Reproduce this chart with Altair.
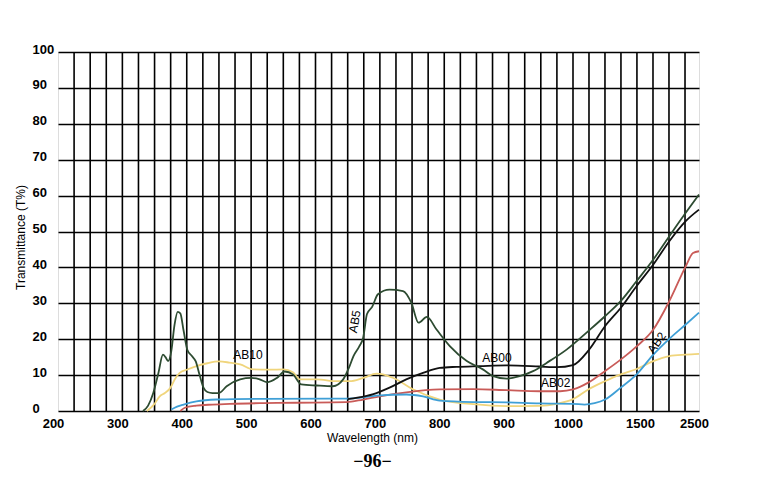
import altair as alt
import pandas as pd

# ---------------- data ----------------
series_names = ["AB10", "AB02", "AB2", "AB00", "AB5"]
series_colors = ["#f0d57c", "#c95b58", "#3f9fd6", "#111111", "#2d4b31"]

ab5_w = [332, 340, 348, 356, 363, 367, 371, 376, 381, 386, 390, 395, 401, 408, 414, 420, 426, 432, 440, 450,
         462, 483, 500, 512, 525, 540, 552, 565, 578, 602, 627, 643, 653, 659, 668, 674, 680, 688, 697, 715,
         736, 749, 760, 773, 788, 809, 835, 860, 876, 897, 917, 938, 959, 990, 1110, 1222, 1331, 1442, 1654,
         1950, 2254, 2500]
ab5_v = [0.0, 1.5, 5.0, 10.6, 15.7, 15.0, 13.9, 16.7, 24.0, 27.6, 27.2, 22.5, 17.0, 15.3, 13.8, 10.0, 6.5, 5.3, 5.0, 5.0,
         6.9, 8.8, 9.2, 8.9, 8.0, 9.2, 11.0, 10.2, 7.4, 7.1, 6.9, 8.8, 12.5, 15.3, 18.0, 20.4, 27.0, 29.0, 32.5, 33.8,
         33.4, 30.1, 24.6, 26.2, 22.7, 18.0, 13.9, 11.6, 9.7, 9.0, 9.7, 11.1, 13.4, 17.1, 22.4, 26.4, 30.6, 36.2, 42.2,
         48.7, 55.2, 60.3]

ab00_w = [650, 665, 690, 715, 741, 767, 793, 819, 855, 897, 948, 975, 1000, 1110, 1222, 1331, 1442, 1654, 1950, 2254, 2500]
ab00_v = [3.3, 3.7, 4.7, 6.5, 8.8, 10.6, 12.0, 12.3, 12.5, 12.7, 12.4, 12.2, 12.8, 17.0, 23.6, 28.7, 34.8, 40.8, 47.3, 52.9, 56.1]

ab02_w = [390, 397, 415, 440, 467, 520, 570, 648, 674, 700, 741, 793, 845, 897, 948, 980, 1000, 1106, 1222, 1331,
          1442, 1654, 1950, 2254, 2389, 2500]
ab02_v = [0.0, 0.9, 1.5, 1.8, 2.0, 2.2, 2.3, 2.45, 3.2, 4.1, 5.2, 6.0, 6.1, 5.8, 5.5, 5.5, 6.0, 7.9, 11.1, 14.3,
          18.0, 22.7, 30.6, 40.3, 44.0, 44.5]

ab2_w = [376, 385, 395, 415, 446, 519, 648, 670, 695, 741, 767, 793, 845, 897, 948, 1000, 1080, 1150, 1222, 1331,
         1442, 1654, 1950, 2254, 2500]
ab2_v = [0.4, 1.2, 1.8, 2.7, 3.2, 3.4, 3.45, 3.7, 4.3, 4.6, 4.1, 2.9, 2.5, 2.4, 2.1, 2.0, 1.8, 2.2, 3.2, 6.5,
         10.2, 15.7, 20.1, 24.1, 27.4]

ab10_w = [338, 350, 358, 366, 374, 382, 389, 400, 415, 432, 450, 466, 483, 503, 529, 550, 565, 576, 602, 633,
          653, 674, 695, 721, 752, 793, 845, 897, 948, 975, 1000, 1106, 1222, 1331, 1442, 1654, 1950, 2254, 2500]
ab10_v = [0.0, 2.0, 4.1, 5.0, 6.3, 9.0, 10.6, 11.5, 12.5, 13.3, 13.8, 13.5, 13.0, 11.6, 11.5, 11.6, 10.8, 8.8, 8.8, 8.3,
          8.3, 9.2, 10.4, 9.2, 6.0, 3.2, 1.9, 1.35, 1.4, 2.0, 3.3, 6.0, 8.3, 10.2, 11.7, 13.9, 15.3, 15.7, 15.9]

label_text = ["AB10", "AB5", "AB00", "AB02", "AB2"]
label_w = [495, 661, 882, 973, 1717]
label_v = [15.7, 24.9, 14.9, 7.7, 19.0]
label_angle = [0, 280, 0, 0, 305]

x_label_values = [200, 300, 400, 500, 600, 700, 800, 900, 1000, 1500, 2500]
x_grid_values = list(range(225, 1000, 25)) + [1000, 1111, 1222, 1333, 1444, 1648, 1944, 2241]
y_values = list(range(0, 101, 10))

# ---------------- tables ----------------
rows = []
for name, ws, vs in [("AB10", ab10_w, ab10_v), ("AB02", ab02_w, ab02_v), ("AB2", ab2_w, ab2_v),
                     ("AB00", ab00_w, ab00_v), ("AB5", ab5_w, ab5_v)]:
    for w, v in zip(ws, vs):
        rows.append({"series": name, "w": w, "v": v})
curves = pd.DataFrame(rows)
labels = pd.DataFrame({"label": label_text, "w": label_w, "v": label_v, "angle": label_angle})
grid = pd.DataFrame({"w": x_grid_values})

W, H = 641, 359
xscale = alt.Scale(domain=[200, 1000, 1500, 2500], range=[0, 515, 587, 641], nice=False, zero=False)
yscale = alt.Scale(domain=[0, 100], nice=False, zero=False)

xaxis = alt.Axis(values=x_label_values, format="d", grid=False, ticks=False, domain=False,
                 labelFont="Liberation Sans", labelFontWeight="bold", labelFontSize=13, labelColor="black",
                 labelPadding=6, labelOffset=-5, labelFlush=False, labelOverlap=False,
                 title="Wavelength (nm)", titleFont="Liberation Sans", titleFontWeight="normal",
                 titleFontSize=12, titleColor="black", titlePadding=2, titleX=314)
yaxis = alt.Axis(values=y_values, grid=True, gridColor="black", gridWidth=1.6, gridOpacity=1,
                 ticks=False, domain=False,
                 labelFont="Liberation Sans", labelFontWeight="bold", labelFontSize=13, labelColor="black",
                 labelAlign="left", labelPadding=26, labelOffset=-3, labelFlush=False,
                 title="Transmittance (T%)", titleFont="Liberation Sans", titleFontWeight="normal",
                 titleFontSize=12, titleColor="black", titleX=-38, titleY=185, titleAngle=270,
                 titleAlign="center", titleBaseline="middle")

rules = alt.Chart(grid).mark_rule(color="black", strokeWidth=1.6).encode(
    x=alt.X("w:Q", scale=xscale, axis=xaxis)
)

lines = alt.Chart(curves).mark_line(interpolate="monotone", strokeWidth=1.8).encode(
    x=alt.X("w:Q", scale=xscale, axis=xaxis),
    y=alt.Y("v:Q", scale=yscale, axis=yaxis),
    color=alt.Color("series:N", scale=alt.Scale(domain=series_names, range=series_colors), legend=None),
)

texts = alt.Chart(labels).mark_text(font="Liberation Sans", fontSize=12, color="black").encode(
    x=alt.X("w:Q", scale=xscale, axis=xaxis),
    y=alt.Y("v:Q", scale=yscale, axis=yaxis),
    text="label:N",
    angle=alt.Angle("angle:Q", scale=None),
)

chart = alt.layer(rules, lines, texts).properties(
    width=W, height=H,
    title=alt.TitleParams("\u221296\u2212", orient="bottom", anchor="middle", font="Liberation Serif",
                          fontSize=18, fontWeight="bold", color="black", offset=10, dx=-6),
    autosize=alt.AutoSizeParams(type="none"),
    padding={"left": 50, "top": 44, "right": 30, "bottom": 80},
).configure_view(stroke="black", strokeWidth=2).configure(background="white")

chart.save("out.html", embed_options={"renderer": "svg", "actions": False})
